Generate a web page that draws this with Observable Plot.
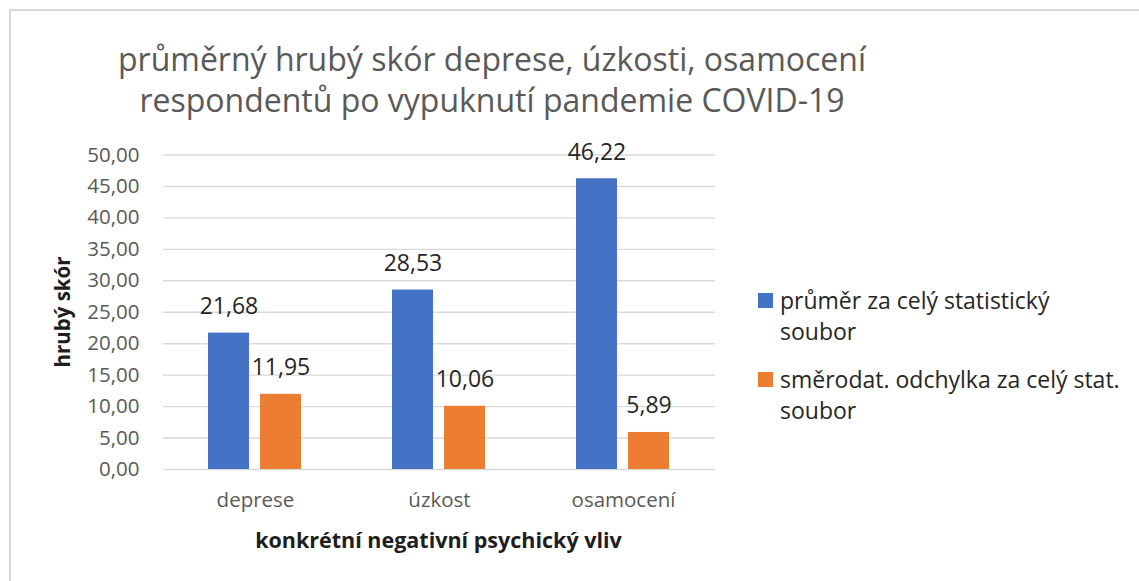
<!DOCTYPE html>
<html>
<head>
<meta charset="utf-8">
<script src="https://cdn.jsdelivr.net/npm/d3@7"></script>
<script src="https://cdn.jsdelivr.net/npm/@observablehq/plot@0.6"></script>
<style>
  html, body { margin: 0; padding: 0; background: #fff; }
  body { width: 1139px; height: 581px; position: relative; overflow: hidden; font-family: "Open Sans", sans-serif; }
  .frame { position: absolute; left: 9px; top: 9px; width: 1200px; height: 620px; border-left: 2px solid #d9d9d9; border-top: 2px solid #d9d9d9; }
  .title { position: absolute; left: 0; width: 984px; top: 38px; text-align: center; color: #595959; font-size: 32px; line-height: 41px; }
  .ylab { position: absolute; left: 62px; top: 312px; transform: translate(-50%, -50%) rotate(-90deg); font-weight: bold; font-size: 20.5px; color: #1e1e1e; white-space: nowrap; }
  .xlab { position: absolute; left: 0; width: 877px; top: 525px; text-align: center; font-weight: bold; font-size: 21.5px; color: #1e1e1e; white-space: nowrap; }
  #chart { position: absolute; left: 0; top: 120px; }
  .legend { position: absolute; left: 758px; top: 285px; color: #262626; font-size: 23px; line-height: 31px; }
  .legend .item { position: relative; padding-left: 22px; margin-bottom: 17px; }
  .legend .sw { position: absolute; left: 0; top: 8px; width: 15px; height: 15px; }
</style>
</head>
<body>
<div class="frame"></div>
<div class="title" id="title"></div>
<div class="ylab" id="ylab"></div>
<div class="xlab" id="xlab"></div>
<div id="chart"></div>
<div class="legend" id="legend"></div>
<script>
// ---- data ----
const titleLines = ["průměrný hrubý skór deprese, úzkosti, osamocení", "respondentů po vypuknutí pandemie COVID-19"];
const categories = ["deprese", "úzkost", "osamocení"];
const seriesNames = ["průměr za celý statistický soubor", "směrodat. odchylka za celý stat. soubor"];
const legendLines = [["průměr za celý statistický", "soubor"], ["směrodat. odchylka za celý stat.", "soubor"]];
const meanValues = [21.68, 28.53, 46.22];
const sdValues = [11.95, 10.06, 5.89];
const seriesColors = ["#4472C4", "#ED7D31"];
const yTicks = [0, 5, 10, 15, 20, 25, 30, 35, 40, 45, 50];
const yLabel = "hrubý skór";
const xLabel = "konkrétní negativní psychický vliv";

const fmt = v => v.toFixed(2).replace(".", ",");

const rows = [];
categories.forEach((c, i) => {
  rows.push({cat: c, series: seriesNames[0], value: meanValues[i]});
  rows.push({cat: c, series: seriesNames[1], value: sdValues[i]});
});

document.getElementById("title").innerHTML = titleLines.join("<br>");
document.getElementById("ylab").textContent = yLabel;
document.getElementById("xlab").textContent = xLabel;
document.getElementById("legend").innerHTML = seriesNames.map((s, i) =>
  `<div class="item"><div class="sw" style="background:${seriesColors[i]}"></div>${legendLines[i].join("<br>")}</div>`
).join("");

const chart = Plot.plot({
  width: 740,
  height: 440,
  marginLeft: 162,
  marginRight: 25,
  marginTop: 34.5,
  marginBottom: 91,
  style: {fontFamily: "'Open Sans', sans-serif", fontSize: "20.5px", background: "transparent"},
  fx: {domain: categories, padding: 0, label: null},
  x: {domain: seriesNames, paddingInner: 0.2075, paddingOuter: 0.842, axis: null},
  y: {domain: [0, 50], label: null},
  color: {domain: seriesNames, range: seriesColors},
  marks: [
    Plot.gridY(yTicks, {stroke: "#d9d9d9", strokeOpacity: 1, strokeWidth: 1.4}),
    Plot.axisY(yTicks, {tickSize: 0, tickPadding: 24, tickFormat: fmt, fill: "#595959", fontSize: 20.5, label: null}),
    Plot.axisFx({anchor: "bottom", tickSize: 0, tickPadding: 23, fill: "#595959", fontSize: 20.5, label: null}),
    Plot.barY(rows, {fx: "cat", x: "series", y: "value", fill: "series"}),
    Plot.text(rows, {fx: "cat", x: "series", y: "value", text: d => fmt(d.value), lineAnchor: "bottom", dy: -19, fontSize: 23, fill: "#262626"})
  ]
});
document.getElementById("chart").appendChild(chart);
</script>
</body>
</html>
